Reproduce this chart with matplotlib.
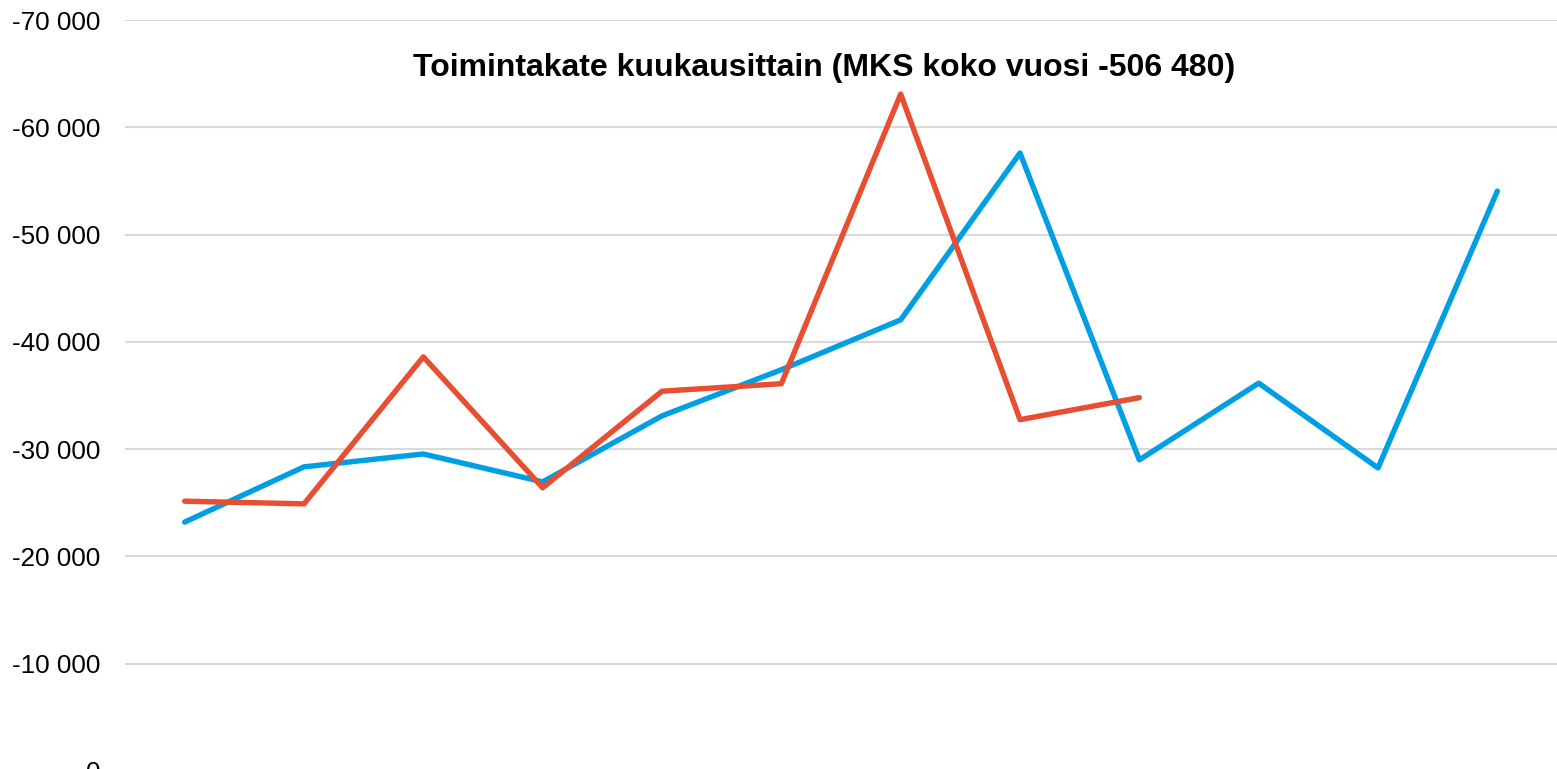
import matplotlib.pyplot as plt
import matplotlib.ticker as mticker

# kuukaudet 1..12
kuukausi = list(range(1, 13))
# sininen sarja (koko vuosi)
edellinen_vuosi = [-23200, -28350, -29550, -26950, -33100, -37400,
                   -42050, -57600, -29000, -36150, -28250, -54050]
# punainen sarja (tama vuosi, 9 kk)
kuluva_vuosi = [-25150, -24900, -38600, -26400, -35400, -36100,
                -63100, -32750, -34800]
y_ticks = [0, -10000, -20000, -30000, -40000, -50000, -60000, -70000]
otsikko = 'Toimintakate kuukausittain (MKS koko vuosi -506 480)'

plt.rcParams['font.family'] = ['Liberation Sans', 'DejaVu Sans']

fig = plt.figure(figsize=(15.57, 7.69), dpi=100)
ax = fig.add_axes([125 / 1557, 1 - 771 / 769, 1 - 125 / 1557, (771 - 20) / 769])

ax.plot(kuukausi, edellinen_vuosi, color='#009FE3', lw=3.9,
        solid_capstyle='round', solid_joinstyle='round')
ax.plot(kuukausi[:len(kuluva_vuosi)], kuluva_vuosi, color='#E84E31', lw=3.9,
        solid_capstyle='round', solid_joinstyle='round')

ax.set_xlim(0.5, 12.5)
ax.set_ylim(0, -70000)
ax.set_yticks(y_ticks)
ax.yaxis.set_major_formatter(mticker.FuncFormatter(
    lambda v, p: '{:,.0f}'.format(v).replace(',', ' ')))
ax.tick_params(axis='y', length=0, labelsize=18.7, pad=18)
ax.set_xticks([])
ax.grid(axis='y', color='#d9d9d9', lw=1.5)
ax.set_axisbelow(True)
for s in ax.spines.values():
    s.set_visible(False)

fig.text(824 / 1557, 1 - 68 / 769, otsikko, ha='center', va='center',
         fontsize=23, fontweight='bold')

fig.savefig('out.png', dpi=100)
